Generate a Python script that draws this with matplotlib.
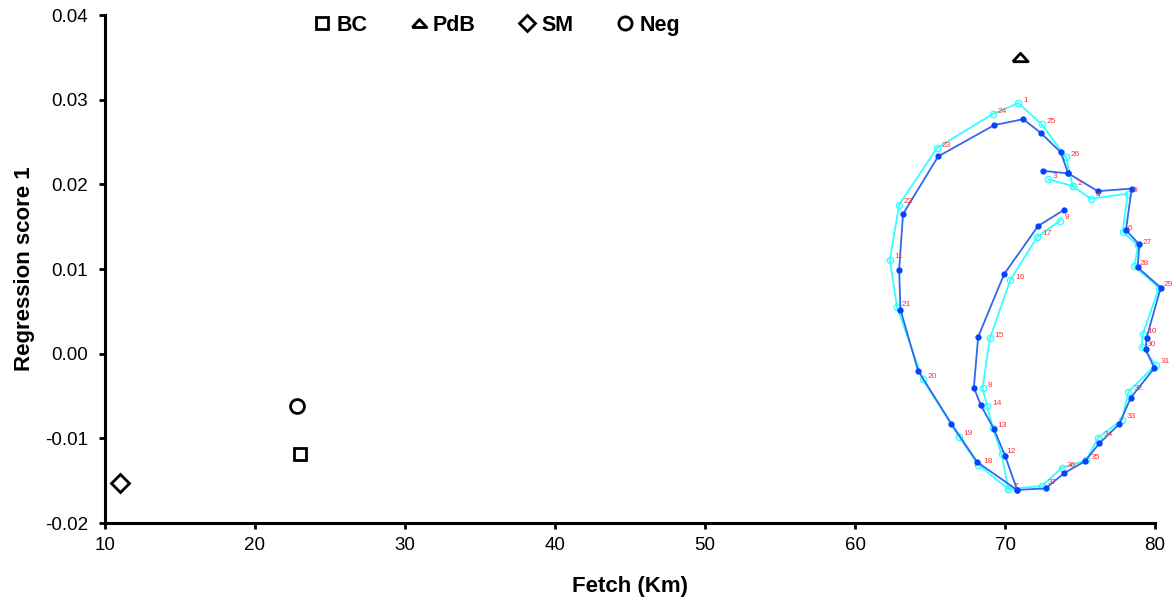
import matplotlib
matplotlib.use("Agg")
import matplotlib.pyplot as plt
import numpy as np

plt.rcParams['font.family'] = ['Liberation Sans', 'DejaVu Sans']
plt.rcParams['axes.unicode_minus'] = False

# sampling sites
site_names = ['BC', 'PdB', 'SM', 'Neg']
site_fetch = [23.0, 71.0, 11.0, 22.8]
site_score = [-0.0118, 0.0350, -0.0153, -0.0062]

# numbered points 1..37 (observed = cyan, fitted = blue)
point_ids = list(range(1, 38))
obs_x = [70.88, 74.51, 72.88, 75.71, 78.18, 77.84, 70.22, 68.50, 73.66, 79.18,
         62.32, 69.77, 69.19, 68.81, 68.99, 70.35, 72.15, 68.21, 66.92, 64.50,
         62.80, 62.94, 65.47, 69.17, 72.44, 74.06, 78.86, 78.62, 80.27, 79.11,
         80.05, 78.22, 77.80, 76.22, 75.39, 73.77, 72.49]
obs_y = [0.0296, 0.0198, 0.0206, 0.0183, 0.0189, 0.0144, -0.0160, -0.0041, 0.0157, 0.0023,
         0.0111, -0.0119, -0.0088, -0.0062, 0.0018, 0.0087, 0.0138, -0.0131, -0.0098, -0.0030,
         0.0055, 0.0176, 0.0243, 0.0283, 0.0271, 0.0232, 0.0128, 0.0103, 0.0078, 0.0008,
         -0.0013, -0.0045, -0.0078, -0.0099, -0.0126, -0.0135, -0.0156]
fit_x = [71.21, 74.21, 72.51, 76.18, 78.44, 78.06, 70.81, 67.92, 73.95, 79.44,
         62.94, 70.01, 69.26, 68.39, 68.21, 69.94, 72.21, 68.14, 66.43, 64.20,
         63.03, 63.20, 65.54, 69.28, 72.37, 73.71, 78.95, 78.84, 80.38, 79.38,
         79.95, 78.38, 77.62, 76.28, 75.33, 73.95, 72.71]
fit_y = [0.0277, 0.0213, 0.0216, 0.0192, 0.0195, 0.0146, -0.0161, -0.0040, 0.0170, 0.0019,
         0.0099, -0.0121, -0.0089, -0.0061, 0.0020, 0.0094, 0.0151, -0.0128, -0.0083, -0.0020,
         0.0052, 0.0165, 0.0233, 0.0270, 0.0261, 0.0238, 0.0129, 0.0102, 0.0078, 0.0005,
         -0.0017, -0.0052, -0.0083, -0.0106, -0.0127, -0.0141, -0.0159]

# order in which the points are joined
path_a = [3, 2, 26, 25, 1, 24, 23, 22, 11, 21, 20, 19, 18, 7, 12, 13, 14, 8, 15, 16, 17, 9]
path_b = [2, 4, 5, 6, 27, 28, 29, 10, 30, 31, 32, 33, 34, 35, 36, 37, 7]

obs_x = np.array(obs_x); obs_y = np.array(obs_y)
fit_x = np.array(fit_x); fit_y = np.array(fit_y)

fig = plt.figure(figsize=(11.73, 6.02), dpi=100)
ax = fig.add_axes([0.0895, 0.1312, 0.8952, 0.8438])

cyan = '#33FFFF'
blue = '#3366EE'
for path in (path_a, path_b):
    idx = np.array(path) - 1
    ax.plot(obs_x[idx], obs_y[idx], '-o', color=cyan, lw=1.3, ms=4.5,
            mfc='none', mec=cyan, mew=1.0, clip_on=False, zorder=2)
for path in (path_a, path_b):
    idx = np.array(path) - 1
    ax.plot(fit_x[idx], fit_y[idx], '-o', color=blue, lw=1.3, ms=3.5,
            mfc='#0044FF', mec='#0044FF', clip_on=False, zorder=3)

for i, n in enumerate(point_ids):
    ax.annotate(str(n), (obs_x[i], obs_y[i]), xytext=(3.5, 1), textcoords='offset points',
                fontsize=6, color='#FF3333', annotation_clip=False, zorder=4)

tri = [(-1, -0.55), (1, -0.55), (0, 0.55), (-1, -0.55)]
markers = ['s', tri, 'D', 'o']
sizes = [9, 11, 9, 10]
for name, fx, sc, mk, sz in zip(site_names, site_fetch, site_score, markers, sizes):
    ax.plot(fx, sc, linestyle='none', marker=mk, ms=sz, mfc='none', mec='black',
            mew=2.0, label=name, clip_on=False, zorder=5)

ax.set_xlim(10, 80)
ax.set_ylim(-0.02, 0.04)
ax.set_xticks(np.arange(10, 81, 10))
ax.set_yticks(np.arange(-0.02, 0.041, 0.01))
ax.yaxis.set_major_formatter(matplotlib.ticker.FormatStrFormatter('%.2f'))
ax.tick_params(direction='out', length=4, width=2, labelsize=13.5)
ax.tick_params(axis='y', pad=8)
ax.tick_params(axis='x', pad=6)
for s in ['top', 'right']:
    ax.spines[s].set_visible(False)
for s in ['left', 'bottom']:
    ax.spines[s].set_linewidth(2.2)

ax.set_xlabel('Fetch (Km)', fontsize=16, fontweight='bold', labelpad=16)
ax.set_ylabel('Regression score 1', fontsize=16, fontweight='bold', labelpad=7)

leg = ax.legend(loc='center', bbox_to_anchor=(0.372, 0.98), ncol=4, frameon=False,
                prop={'size': 15.5, 'weight': 'bold'}, handletextpad=0.15,
                columnspacing=1.9, handlelength=1.0, markerscale=0.95)

plt.savefig('out.png', dpi=100)
